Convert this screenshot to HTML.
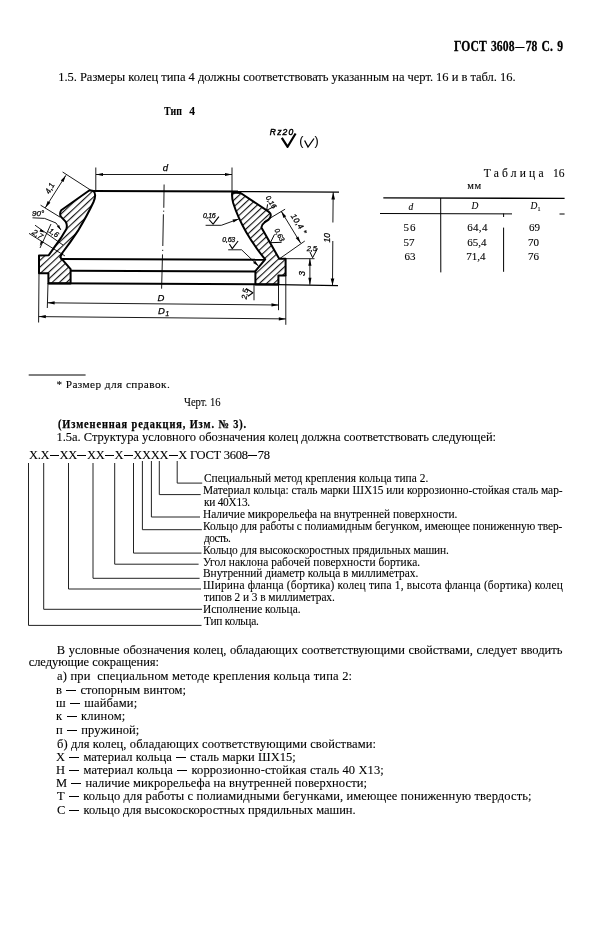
<!DOCTYPE html>
<html><head><meta charset="utf-8"><style>
html,body{margin:0;padding:0;background:#fff;}
body{width:602px;height:928px;position:relative;overflow:hidden;color:#000;font-family:"Liberation Serif",serif;filter:grayscale(1);}
.t{position:absolute;white-space:pre;line-height:1;-webkit-text-stroke:0.1px #000;}
.dh{display:inline-block;height:0;border-top:1px solid #000;vertical-align:0.25em;}
svg{overflow:visible}
</style></head><body>
<svg width="602" height="928" style="position:absolute;left:0;top:0"><defs><pattern id="hatch" patternUnits="userSpaceOnUse" width="4.9" height="4.9" patternTransform="rotate(-43) translate(0,1.5)"><line x1="-1" y1="0.6" x2="6" y2="0.6" stroke="#000" stroke-width="1.05"/></pattern></defs><path d="M89.5,190.3 L61.2,210.2 Q59.4,213 60.6,216.4 L65.6,221.6 Q67.6,224.5 66.4,229 L60.8,238.2 L48.8,255.2 L39,255.4 L39,273.2 L48.4,273.2 L48.4,283.4 L70.6,283.4 L70.6,269.2 L60.2,257.2 L62.6,252.5 Q70,243 77.9,230.9 Q88,214 93.5,202 Q96.8,194 93.5,191 Z" fill="url(#hatch)"/><path d="M232.2,192.4 Q231.6,197 233.2,203 Q238,218 246.4,232.4 Q255,247 265.2,259.4 L255.4,271.2 L255.4,284.6 L278.4,284.6 L278.4,275.4 L285.6,275.4 L285.6,258.8 L279.2,258.8 L261.4,227.4 Q261.6,224.5 264.5,222.5 L268.6,219.6 Q273,215 268.6,211.6 L240.6,193 Z" fill="url(#hatch)"/><path d="M89.5,190.3 L61.2,210.2 Q59.4,213 60.6,216.4 L65.6,221.6 Q67.6,224.5 66.4,229 L60.8,238.2 L48.8,255.2 L39,255.4 L39,273.2 L48.4,273.2 L48.4,283.4 L70.6,283.4 L70.6,269.2 L60.2,257.2 L62.6,252.5 Q70,243 77.9,230.9 Q88,214 93.5,202 Q96.8,194 93.5,191 Z" fill="none" stroke="#000" stroke-width="2" stroke-linejoin="round"/><path d="M232.2,192.4 Q231.6,197 233.2,203 Q238,218 246.4,232.4 Q255,247 265.2,259.4 L255.4,271.2 L255.4,284.6 L278.4,284.6 L278.4,275.4 L285.6,275.4 L285.6,258.8 L279.2,258.8 L261.4,227.4 Q261.6,224.5 264.5,222.5 L268.6,219.6 Q273,215 268.6,211.6 L240.6,193 Z" fill="none" stroke="#000" stroke-width="2" stroke-linejoin="round"/><line x1="93" y1="191.1" x2="238" y2="191.6" stroke="#000" stroke-width="2"/><line x1="238" y1="191.6" x2="339" y2="192.2" stroke="#000" stroke-width="1.2"/><line x1="60.5" y1="259.0" x2="265" y2="259.8" stroke="#000" stroke-width="2"/><line x1="70.6" y1="270.8" x2="255.4" y2="271.6" stroke="#000" stroke-width="2"/><line x1="48.4" y1="283.2" x2="278.4" y2="284.5" stroke="#000" stroke-width="2"/><line x1="278.4" y1="284.6" x2="338" y2="285.6" stroke="#000" stroke-width="1.1"/><path d="M164.1,184.5 L163.8,207.8 M163.7,210.6 L163.7,211.8 M163.4,214.3 L162.8,246 M162.7,249.8 L162.7,251 M162.5,254.4 L161.6,288.7" stroke="#000" stroke-width="0.9" fill="none"/><line x1="95.8" y1="167.5" x2="95.8" y2="190" stroke="#000" stroke-width="0.9"/><line x1="232.0" y1="167.5" x2="232.0" y2="191" stroke="#000" stroke-width="0.9"/><line x1="96" y1="174.5" x2="232" y2="174.5" stroke="#000" stroke-width="0.9"/><path d="M232.0,174.5 L225.0,176.1 L225.0,172.9 Z" fill="#000"/><path d="M96.0,174.5 L103.0,172.9 L103.0,176.1 Z" fill="#000"/><line x1="39" y1="273" x2="38.6" y2="322.5" stroke="#000" stroke-width="0.9"/><line x1="48" y1="283" x2="47.3" y2="308" stroke="#000" stroke-width="0.9"/><line x1="278.5" y1="284.6" x2="278.5" y2="310.2" stroke="#000" stroke-width="0.9"/><line x1="285.8" y1="275" x2="285.8" y2="324.8" stroke="#000" stroke-width="0.9"/><line x1="47.6" y1="302.8" x2="278.5" y2="305" stroke="#000" stroke-width="0.9"/><path d="M278.5,305.0 L271.5,306.5 L271.5,303.3 Z" fill="#000"/><path d="M47.6,302.8 L54.6,301.3 L54.6,304.5 Z" fill="#000"/><line x1="38.8" y1="316.6" x2="285.8" y2="318.9" stroke="#000" stroke-width="0.9"/><path d="M285.8,318.9 L278.8,320.4 L278.8,317.2 Z" fill="#000"/><path d="M38.8,316.6 L45.8,315.1 L45.8,318.3 Z" fill="#000"/><line x1="333.2" y1="192.2" x2="332.9" y2="222.5" stroke="#000" stroke-width="0.9"/><line x1="332.8" y1="241" x2="332.5" y2="285.6" stroke="#000" stroke-width="0.9"/><path d="M333.2,192.4 L335.0,199.4 L331.4,199.4 Z" fill="#000"/><path d="M332.5,285.4 L330.7,278.4 L334.3,278.4 Z" fill="#000"/><line x1="285.6" y1="258.7" x2="314.5" y2="258.7" stroke="#000" stroke-width="0.9"/><line x1="309.9" y1="258.8" x2="309.9" y2="284.8" stroke="#000" stroke-width="0.9"/><path d="M309.9,284.8 L308.3,277.8 L311.5,277.8 Z" fill="#000"/><path d="M309.9,258.8 L311.5,265.8 L308.3,265.8 Z" fill="#000"/><line x1="264" y1="221.8" x2="285.1" y2="209.2" stroke="#000" stroke-width="0.9"/><line x1="280" y1="258.4" x2="304.8" y2="241.0" stroke="#000" stroke-width="0.9"/><line x1="281.2" y1="211.2" x2="300.7" y2="243.2" stroke="#000" stroke-width="0.9"/><path d="M300.7,243.2 L295.7,238.1 L298.4,236.4 Z" fill="#000"/><path d="M281.2,211.2 L286.2,216.3 L283.5,218.0 Z" fill="#000"/><line x1="62.6" y1="172" x2="90.5" y2="190" stroke="#000" stroke-width="0.9"/><line x1="40.6" y1="205.2" x2="60" y2="217.1" stroke="#000" stroke-width="0.9"/><line x1="65.9" y1="175.3" x2="45.3" y2="207.8" stroke="#000" stroke-width="0.9"/><path d="M45.3,207.8 L47.7,201.0 L50.4,202.7 Z" fill="#000"/><path d="M65.9,175.3 L63.5,182.1 L60.8,180.4 Z" fill="#000"/><path d="M32.5,217.8 L44.6,218.4 L56,223" fill="none" stroke="#000" stroke-width="0.9" stroke-linejoin="round"/><line x1="56" y1="223" x2="60.9" y2="229.9" stroke="#000" stroke-width="0.9"/><path d="M60.9,229.9 L56.9,226.6 L59.1,225.1 Z" fill="#000"/><line x1="35" y1="225.2" x2="63" y2="245" stroke="#000" stroke-width="0.9"/><line x1="29" y1="233.4" x2="64.9" y2="255.9" stroke="#000" stroke-width="0.9"/><line x1="51" y1="224" x2="40" y2="248" stroke="#000" stroke-width="0.9"/><path d="M44.6,232.5 L39.5,231.4 L40.7,229.1 Z" fill="#000"/><path d="M39.8,245.8 L40.9,240.7 L43.2,241.9 Z" fill="#000"/><path d="M205.6,225.3 L221.3,225.3" fill="none" stroke="#000" stroke-width="0.9" stroke-linejoin="round"/><line x1="221.3" y1="225.3" x2="238.7" y2="219" stroke="#000" stroke-width="0.9"/><path d="M238.7,219.0 L233.6,222.5 L232.5,219.6 Z" fill="#000"/><path d="M209,219.5 L213.1,224.2 L218.9,216.6" fill="none" stroke="#000" stroke-width="1.1" stroke-linejoin="round"/><path d="M228.2,249.8 L241.6,249.8" fill="none" stroke="#000" stroke-width="0.9" stroke-linejoin="round"/><line x1="241.6" y1="249.8" x2="258.5" y2="266" stroke="#000" stroke-width="0.9"/><path d="M258.5,266.0 L253.1,262.9 L255.2,260.8 Z" fill="#000"/><path d="M229.4,244 L232.3,248.6 L238.1,241" fill="none" stroke="#000" stroke-width="1.1" stroke-linejoin="round"/><path d="M267.6,204.3 L266.6,210.3 L276,205.6" fill="none" stroke="#000" stroke-width="1.0" stroke-linejoin="round"/><path d="M274.5,234.4 L270.4,242.7 L281.6,242.3" fill="none" stroke="#000" stroke-width="1.0" stroke-linejoin="round"/><path d="M310,252 L312.6,257.7 L317.5,248.5" fill="none" stroke="#000" stroke-width="1.0" stroke-linejoin="round"/><line x1="254" y1="284.6" x2="254" y2="300.3" stroke="#000" stroke-width="0.9"/><path d="M246,288.5 L252.9,292.7 L248,296.2" fill="none" stroke="#000" stroke-width="1.1" stroke-linejoin="round"/><path d="M281.8,137.8 L287.6,146.8 L295.6,133.5" fill="none" stroke="#000" stroke-width="2.2" stroke-linejoin="round"/><path d="M304.6,140.5 L308,147 L314,138.5" fill="none" stroke="#000" stroke-width="1.3"/><line x1="383.3" y1="197.9" x2="564.6" y2="198.4" stroke="#000" stroke-width="1.4"/><line x1="380" y1="213.5" x2="512" y2="213.9" stroke="#000" stroke-width="1.0"/><line x1="559.5" y1="214" x2="564.6" y2="214" stroke="#000" stroke-width="1.0"/><line x1="440.7" y1="198" x2="440.8" y2="272.4" stroke="#000" stroke-width="1.0"/><line x1="503.6" y1="227.6" x2="503.6" y2="271.8" stroke="#000" stroke-width="1.0"/><line x1="503.6" y1="213.5" x2="503.6" y2="217" stroke="#000" stroke-width="1.0"/><line x1="28.7" y1="375" x2="85.6" y2="375" stroke="#000" stroke-width="1.0"/></svg>
<svg width="602" height="928" style="position:absolute;left:0;top:0"><text x="162.7" y="171.2" font-family="Liberation Sans" font-size="9.5" font-style="italic" font-weight="normal" text-anchor="start" letter-spacing="0" stroke="#000" stroke-width="0.25">d</text><text x="157.5" y="301" font-family="Liberation Sans" font-size="9.5" font-style="italic" font-weight="normal" text-anchor="start" letter-spacing="0" stroke="#000" stroke-width="0.25">D</text><text x="158" y="314" font-family="Liberation Sans" font-size="9.5" font-style="italic" font-weight="normal" text-anchor="start" letter-spacing="0" stroke="#000" stroke-width="0.25">D</text><text x="165.5" y="316" font-family="Liberation Sans" font-size="6.5" font-style="italic" font-weight="normal" text-anchor="start" letter-spacing="0" stroke="#000" stroke-width="0.25">1</text><text x="49.5" y="194.5" font-family="Liberation Sans" font-size="8" font-style="italic" font-weight="normal" text-anchor="start" letter-spacing="0" stroke="#000" stroke-width="0.25" transform="rotate(-62 49.5 194.5)">4,1</text><text x="32" y="215.5" font-family="Liberation Sans" font-size="8" font-style="italic" font-weight="normal" text-anchor="start" letter-spacing="0" stroke="#000" stroke-width="0.25">90°</text><text x="31.5" y="233.5" font-family="Liberation Sans" font-size="8" font-style="italic" font-weight="normal" text-anchor="start" letter-spacing="0" stroke="#000" stroke-width="0.25" transform="rotate(33 31.5 233.5)">2,7</text><text x="48" y="232" font-family="Liberation Sans" font-size="7.5" font-style="italic" font-weight="normal" text-anchor="start" letter-spacing="0" stroke="#000" stroke-width="0.25" transform="rotate(33 48 232)">1,6</text><text x="203" y="217.6" font-family="Liberation Sans" font-size="7" font-style="italic" font-weight="normal" text-anchor="start" letter-spacing="-0.3" stroke="#000" stroke-width="0.25">0,16</text><text x="222.2" y="242.1" font-family="Liberation Sans" font-size="7" font-style="italic" font-weight="normal" text-anchor="start" letter-spacing="-0.2" stroke="#000" stroke-width="0.25">0,63</text><text x="265.5" y="197.5" font-family="Liberation Sans" font-size="7" font-style="italic" font-weight="normal" text-anchor="start" letter-spacing="0" stroke="#000" stroke-width="0.25" transform="rotate(58 265.5 197.5)">0,16</text><text x="274.2" y="230" font-family="Liberation Sans" font-size="7" font-style="italic" font-weight="normal" text-anchor="start" letter-spacing="0" stroke="#000" stroke-width="0.25" transform="rotate(62 274.2 230)">0,63</text><text x="290.5" y="216" font-family="Liberation Sans" font-size="8" font-style="italic" font-weight="normal" text-anchor="start" letter-spacing="0.3" stroke="#000" stroke-width="0.25" transform="rotate(57 290.5 216)">10,4 *</text><text x="329.5" y="242.5" font-family="Liberation Sans" font-size="8.5" font-style="italic" font-weight="normal" text-anchor="start" letter-spacing="0" stroke="#000" stroke-width="0.25" transform="rotate(-90 329.5 242.5)">10</text><text x="305" y="276" font-family="Liberation Sans" font-size="9" font-style="italic" font-weight="normal" text-anchor="start" letter-spacing="0" stroke="#000" stroke-width="0.25" transform="rotate(-90 305 276)">3</text><text x="306.8" y="251" font-family="Liberation Sans" font-size="7.5" font-style="italic" font-weight="normal" text-anchor="start" letter-spacing="-0.2" stroke="#000" stroke-width="0.25">2,5</text><text x="246.5" y="299.5" font-family="Liberation Sans" font-size="7.5" font-style="italic" font-weight="normal" text-anchor="start" letter-spacing="0" stroke="#000" stroke-width="0.25" transform="rotate(-80 246.5 299.5)">2,5</text><text x="269.8" y="134.5" font-family="Liberation Sans" font-size="8.5" font-style="italic" font-weight="normal" text-anchor="start" letter-spacing="1.2" stroke="#000" stroke-width="0.45">Rz20</text><text x="299.2" y="145.2" font-family="Liberation Sans" font-size="12.5" font-style="normal" font-weight="normal" text-anchor="start" letter-spacing="0" stroke="#000" stroke-width="0.1">(</text><text x="314.4" y="145.2" font-family="Liberation Sans" font-size="12.5" font-style="normal" font-weight="normal" text-anchor="start" letter-spacing="0" stroke="#000" stroke-width="0.1">)</text><text x="408.5" y="209.8" font-family="Liberation Serif" font-size="9.5" font-style="italic" font-weight="normal" text-anchor="start" letter-spacing="0" stroke="#000" stroke-width="0.1">d</text><text x="471.5" y="209.3" font-family="Liberation Serif" font-size="9.5" font-style="italic" font-weight="normal" text-anchor="start" letter-spacing="0" stroke="#000" stroke-width="0.1">D</text><text x="530.5" y="209.3" font-family="Liberation Serif" font-size="9.5" font-style="italic" font-weight="normal" text-anchor="start" letter-spacing="0" stroke="#000" stroke-width="0.1">D</text><text x="537.5" y="211" font-family="Liberation Serif" font-size="6" font-style="normal" font-weight="normal" text-anchor="start" letter-spacing="0" stroke="#000" stroke-width="0.1">1</text></svg>
<svg width="602" height="928" style="position:absolute;left:0;top:0"><path d="M177.2,461 L177.2,483.1 L202.2,483.1 M159.3,461 L159.3,494.6 L200.7,494.6 M151.4,461 L151.4,517 L200,517 M142.4,461 L142.4,529.7 L201.9,529.7 M133.5,463 L133.5,553.1 L201.5,553.1 M114.7,463 L114.7,564.2 L198.6,564.2 M93,463 L93,578.3 L199.6,578.3 M68.5,463 L68.5,589 L201,589 M43.7,463 L43.7,609.3 L202,609.3 M28.5,463 L28.5,625.4 L201.5,625.4 " fill="none" stroke="#222" stroke-width="1"/></svg>
<div class="t" style="left:453.5px;top:40px;font-family:'Liberation Serif';font-size:13.7px;font-weight:bold;font-style:normal;letter-spacing:0.110px;word-spacing:1.3px;transform:scaleX(0.85);transform-origin:0 0;-webkit-text-stroke:0.3px #000;">ГОСТ 3608<span class="dh" style="width:11px;margin:0 1px;border-top-width:1px"></span>78 С. 9</div><div class="t" style="left:58.2px;top:71px;font-family:'Liberation Serif';font-size:12.5px;font-weight:normal;font-style:normal;letter-spacing:-0.025px;word-spacing:0.0px;">1.5. Размеры колец типа 4 должны соответствовать указанным на черт. 16 и в табл. 16.</div><div class="t" style="left:163.7px;top:106px;font-family:'Liberation Serif';font-size:11.5px;font-weight:bold;font-style:normal;letter-spacing:0.174px;word-spacing:0.0px;transform:scaleX(0.86);transform-origin:0 0;">Тип</div><div class="t" style="left:189.2px;top:106px;font-family:'Liberation Serif';font-size:11.5px;font-weight:bold;font-style:normal;letter-spacing:0.000px;word-spacing:0.0px;">4</div><div class="t" style="left:483.8px;top:168px;font-family:'Liberation Serif';font-size:11.5px;font-weight:normal;font-style:normal;letter-spacing:3.200px;word-spacing:0.0px;">Таблица</div><div class="t" style="left:553.1px;top:168px;font-family:'Liberation Serif';font-size:11.5px;font-weight:normal;font-style:normal;letter-spacing:0.000px;word-spacing:0.0px;">16</div><div class="t" style="left:467.3px;top:181px;font-family:'Liberation Serif';font-size:10.5px;font-weight:normal;font-style:normal;letter-spacing:0.600px;word-spacing:0.0px;">мм</div><div class="t" style="left:56.4px;top:379px;font-family:'Liberation Serif';font-size:11.3px;font-weight:normal;font-style:normal;letter-spacing:0.415px;word-spacing:0.0px;">* Размер для справок.</div><div class="t" style="left:184.0px;top:397px;font-family:'Liberation Serif';font-size:11.8px;font-weight:normal;font-style:normal;letter-spacing:0.000px;word-spacing:0.0px;transform:scaleX(0.9);transform-origin:0 0;">Черт. 16</div><div class="t" style="left:58.0px;top:418px;font-family:'Liberation Serif';font-size:12px;font-weight:bold;font-style:normal;letter-spacing:1.043px;word-spacing:0.0px;transform:scaleX(0.86);transform-origin:0 0;-webkit-text-stroke:0.25px #000;">(Измененная редакция, Изм. № 3).</div><div class="t" style="left:56.5px;top:431px;font-family:'Liberation Serif';font-size:12.5px;font-weight:normal;font-style:normal;letter-spacing:-0.029px;word-spacing:0.0px;">1.5а. Структура условного обозначения колец должна соответствовать следующей:</div><div class="t" style="left:204.4px;top:472px;font-family:'Liberation Serif';font-size:12.2px;font-weight:normal;font-style:normal;letter-spacing:0.026px;word-spacing:0.0px;transform:scaleX(0.935);transform-origin:0 0;">Специальный метод крепления кольца типа 2.</div><div class="t" style="left:203.4px;top:484px;font-family:'Liberation Serif';font-size:12.2px;font-weight:normal;font-style:normal;letter-spacing:-0.035px;word-spacing:0.0px;transform:scaleX(0.935);transform-origin:0 0;">Материал кольца: сталь марки ШХ15 или коррозионно-стойкая сталь мар-</div><div class="t" style="left:204.4px;top:496px;font-family:'Liberation Serif';font-size:12.2px;font-weight:normal;font-style:normal;letter-spacing:-0.294px;word-spacing:0.0px;transform:scaleX(0.935);transform-origin:0 0;">ки 40Х13.</div><div class="t" style="left:203.4px;top:508px;font-family:'Liberation Serif';font-size:12.2px;font-weight:normal;font-style:normal;letter-spacing:-0.019px;word-spacing:0.0px;transform:scaleX(0.935);transform-origin:0 0;">Наличие микрорельефа на внутренней поверхности.</div><div class="t" style="left:203.4px;top:520px;font-family:'Liberation Serif';font-size:12.2px;font-weight:normal;font-style:normal;letter-spacing:-0.086px;word-spacing:0.0px;transform:scaleX(0.935);transform-origin:0 0;">Кольцо для работы с полиамидным бегунком, имеющее пониженную твер-</div><div class="t" style="left:204.4px;top:532px;font-family:'Liberation Serif';font-size:12.2px;font-weight:normal;font-style:normal;letter-spacing:-0.663px;word-spacing:0.0px;transform:scaleX(0.935);transform-origin:0 0;">дость.</div><div class="t" style="left:203.4px;top:544px;font-family:'Liberation Serif';font-size:12.2px;font-weight:normal;font-style:normal;letter-spacing:-0.105px;word-spacing:0.0px;transform:scaleX(0.935);transform-origin:0 0;">Кольцо для высокоскоростных прядильных машин.</div><div class="t" style="left:203.4px;top:556px;font-family:'Liberation Serif';font-size:12.2px;font-weight:normal;font-style:normal;letter-spacing:0.048px;word-spacing:0.0px;transform:scaleX(0.935);transform-origin:0 0;">Угол наклона рабочей поверхности бортика.</div><div class="t" style="left:203.4px;top:567px;font-family:'Liberation Serif';font-size:12.2px;font-weight:normal;font-style:normal;letter-spacing:-0.033px;word-spacing:0.0px;transform:scaleX(0.935);transform-origin:0 0;">Внутренний диаметр кольца в миллиметрах.</div><div class="t" style="left:203.4px;top:579px;font-family:'Liberation Serif';font-size:12.2px;font-weight:normal;font-style:normal;letter-spacing:0.191px;word-spacing:0.0px;transform:scaleX(0.935);transform-origin:0 0;">Ширина фланца (бортика) колец типа 1, высота фланца (бортика) колец</div><div class="t" style="left:204.4px;top:591px;font-family:'Liberation Serif';font-size:12.2px;font-weight:normal;font-style:normal;letter-spacing:-0.086px;word-spacing:0.0px;transform:scaleX(0.935);transform-origin:0 0;">типов 2 и 3 в миллиметрах.</div><div class="t" style="left:203.4px;top:603px;font-family:'Liberation Serif';font-size:12.2px;font-weight:normal;font-style:normal;letter-spacing:0.019px;word-spacing:0.0px;transform:scaleX(0.935);transform-origin:0 0;">Исполнение кольца.</div><div class="t" style="left:204.4px;top:615px;font-family:'Liberation Serif';font-size:12.2px;font-weight:normal;font-style:normal;letter-spacing:-0.235px;word-spacing:0.0px;transform:scaleX(0.935);transform-origin:0 0;">Тип кольца.</div><div class="t" style="left:56.8px;top:644px;font-family:'Liberation Serif';font-size:12.5px;font-weight:normal;font-style:normal;letter-spacing:0.000px;word-spacing:0.48750000000000426px;">В условные обозначения колец, обладающих соответствующими свойствами, следует вводить</div><div class="t" style="left:28.7px;top:656px;font-family:'Liberation Serif';font-size:12.5px;font-weight:normal;font-style:normal;letter-spacing:-0.065px;word-spacing:0.0px;">следующие сокращения:</div><div class="t" style="left:57.0px;top:670px;font-family:'Liberation Serif';font-size:12.5px;font-weight:normal;font-style:normal;letter-spacing:0.190px;word-spacing:0.0px;">а) при  специальном методе крепления кольца типа 2:</div><div class="t" style="left:56.0px;top:684px;font-family:'Liberation Serif';font-size:12.5px;font-weight:normal;font-style:normal;letter-spacing:0.075px;word-spacing:0.0px;">в <span class="dh" style="width:10px;margin:0 1px;border-top-width:1px"></span> стопорным винтом;</div><div class="t" style="left:56.0px;top:697px;font-family:'Liberation Serif';font-size:12.5px;font-weight:normal;font-style:normal;letter-spacing:0.145px;word-spacing:0.0px;">ш <span class="dh" style="width:10px;margin:0 1px;border-top-width:1px"></span> шайбами;</div><div class="t" style="left:56.0px;top:710px;font-family:'Liberation Serif';font-size:12.5px;font-weight:normal;font-style:normal;letter-spacing:0.200px;word-spacing:0.0px;">к <span class="dh" style="width:10px;margin:0 1px;border-top-width:1px"></span> клином;</div><div class="t" style="left:56.0px;top:724px;font-family:'Liberation Serif';font-size:12.5px;font-weight:normal;font-style:normal;letter-spacing:0.100px;word-spacing:0.0px;">п <span class="dh" style="width:10px;margin:0 1px;border-top-width:1px"></span> пружиной;</div><div class="t" style="left:57.0px;top:738px;font-family:'Liberation Serif';font-size:12.5px;font-weight:normal;font-style:normal;letter-spacing:0.104px;word-spacing:0.0px;">б) для колец, обладающих соответствующими свойствами:</div><div class="t" style="left:56.0px;top:751px;font-family:'Liberation Serif';font-size:12.5px;font-weight:normal;font-style:normal;letter-spacing:0.042px;word-spacing:0.0px;">Х <span class="dh" style="width:10px;margin:0 1px;border-top-width:1px"></span> материал кольца <span class="dh" style="width:10px;margin:0 1px;border-top-width:1px"></span> сталь марки ШХ15;</div><div class="t" style="left:56.0px;top:764px;font-family:'Liberation Serif';font-size:12.5px;font-weight:normal;font-style:normal;letter-spacing:0.111px;word-spacing:0.0px;">Н <span class="dh" style="width:10px;margin:0 1px;border-top-width:1px"></span> материал кольца <span class="dh" style="width:10px;margin:0 1px;border-top-width:1px"></span> коррозионно-стойкая сталь 40 Х13;</div><div class="t" style="left:56.0px;top:777px;font-family:'Liberation Serif';font-size:12.5px;font-weight:normal;font-style:normal;letter-spacing:0.074px;word-spacing:0.0px;">М <span class="dh" style="width:10px;margin:0 1px;border-top-width:1px"></span> наличие микрорельефа на внутренней поверхности;</div><div class="t" style="left:57.0px;top:790px;font-family:'Liberation Serif';font-size:12.5px;font-weight:normal;font-style:normal;letter-spacing:0.118px;word-spacing:0.0px;">Т <span class="dh" style="width:10px;margin:0 1px;border-top-width:1px"></span> кольцо для работы с полиамидными бегунками, имеющее пониженную твердость;</div><div class="t" style="left:57.0px;top:804px;font-family:'Liberation Serif';font-size:12.5px;font-weight:normal;font-style:normal;letter-spacing:-0.004px;word-spacing:0.0px;">С <span class="dh" style="width:10px;margin:0 1px;border-top-width:1px"></span> кольцо для высокоскоростных прядильных машин.</div><div class="t" style="left:403.4px;top:222px;font-family:'Liberation Serif';font-size:11px;font-weight:normal;font-style:normal;letter-spacing:1.000px;word-spacing:0.0px;">56</div><div class="t" style="left:403.4px;top:237px;font-family:'Liberation Serif';font-size:11px;font-weight:normal;font-style:normal;letter-spacing:0.000px;word-spacing:0.0px;">57</div><div class="t" style="left:404.4px;top:251px;font-family:'Liberation Serif';font-size:11px;font-weight:normal;font-style:normal;letter-spacing:0.000px;word-spacing:0.0px;">63</div><div class="t" style="left:467.2px;top:222px;font-family:'Liberation Serif';font-size:11px;font-weight:normal;font-style:normal;letter-spacing:0.333px;word-spacing:0.0px;">64,4</div><div class="t" style="left:467.2px;top:237px;font-family:'Liberation Serif';font-size:11px;font-weight:normal;font-style:normal;letter-spacing:0.000px;word-spacing:0.0px;">65,4</div><div class="t" style="left:466.2px;top:251px;font-family:'Liberation Serif';font-size:11px;font-weight:normal;font-style:normal;letter-spacing:0.000px;word-spacing:0.0px;">71,4</div><div class="t" style="left:529.0px;top:222px;font-family:'Liberation Serif';font-size:11px;font-weight:normal;font-style:normal;letter-spacing:0.000px;word-spacing:0.0px;">69</div><div class="t" style="left:528.0px;top:237px;font-family:'Liberation Serif';font-size:11px;font-weight:normal;font-style:normal;letter-spacing:0.000px;word-spacing:0.0px;">70</div><div class="t" style="left:528.0px;top:251px;font-family:'Liberation Serif';font-size:11px;font-weight:normal;font-style:normal;letter-spacing:0.000px;word-spacing:0.0px;">76</div><div class="t" style="left:29.0px;top:449px;font-family:'Liberation Serif';font-size:12.5px;font-weight:normal;font-style:normal;letter-spacing:-0.267px;word-spacing:0.0px;">Х.Х<span class="dh" style="width:9px;margin:0 0.5px;border-top-width:1px"></span>ХХ<span class="dh" style="width:9px;margin:0 0.5px;border-top-width:1px"></span>ХХ<span class="dh" style="width:9px;margin:0 0.5px;border-top-width:1px"></span>Х<span class="dh" style="width:9px;margin:0 0.5px;border-top-width:1px"></span>ХХХХ<span class="dh" style="width:9px;margin:0 0.5px;border-top-width:1px"></span>Х ГОСТ 3608<span class="dh" style="width:9px;margin:0 0.5px;border-top-width:1px"></span>78</div>
</body></html>
